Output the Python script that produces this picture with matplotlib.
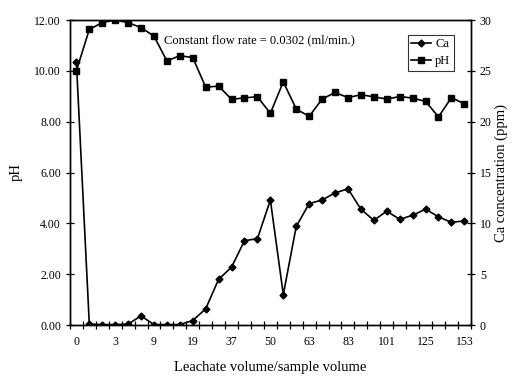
import numpy as np
import matplotlib.pyplot as plt
from matplotlib.ticker import FormatStrFormatter

plt.rcParams['font.family'] = ['Liberation Serif', 'DejaVu Serif']

# 31 samples, category axis, every third one labelled
tick_labels = ['0', '3', '9', '19', '37', '50', '63', '83', '101', '125', '153']

ph = [10.0, 11.63, 11.9, 12.0, 11.9, 11.7, 11.37, 10.39, 10.6, 10.52,
      9.36, 9.4, 8.88, 8.94, 8.98, 8.33, 9.57, 8.5, 8.21, 8.89,
      9.15, 8.95, 9.06, 8.98, 8.89, 8.99, 8.93, 8.8, 8.19, 8.95, 8.7]

ca = [25.9, 0.1, 0.05, 0.05, 0.1, 0.9, 0.05, 0.05, 0.05, 0.45,
      1.6, 4.5, 5.7, 8.3, 8.5, 12.3, 3.0, 9.7, 11.95, 12.3,
      13.0, 13.4, 11.4, 10.3, 11.2, 10.4, 10.8, 11.4, 10.65, 10.1, 10.25]

x = np.arange(len(ph))

fig = plt.figure(figsize=(5.14, 3.78), dpi=100)
ax = fig.add_axes([0.136, 0.140, 0.780, 0.807])
ax2 = ax.twinx()

l_ca, = ax2.plot(x, ca, color='black', lw=1.2, marker='D', ms=3.5, label='Ca')
l_ph, = ax.plot(x, ph, color='black', lw=1.2, marker='s', ms=4, label='pH')

ax.set_xlim(-0.5, len(ph) - 0.5)
ax.set_ylim(0, 12)
ax2.set_ylim(0, 30)

ax.set_xticks(x[::3])
ax.set_xticklabels(tick_labels)
ax.set_xticks(np.arange(-0.5, len(ph)), minor=True)
ax.tick_params(axis='x', which='major', length=0, pad=8, labelsize=8.5)
ax.tick_params(axis='x', which='minor', length=6, direction='inout', width=0.9)

ax.set_yticks(np.arange(0, 12.1, 2))
ax.yaxis.set_major_formatter(FormatStrFormatter('%.2f'))
ax.tick_params(axis='y', length=6, direction='inout', labelsize=8.5, width=0.9)
ax2.set_yticks(np.arange(0, 31, 5))
ax2.tick_params(axis='y', length=6, direction='inout', labelsize=8.5, width=0.9)

for a in (ax, ax2):
    for s in a.spines.values():
        s.set_linewidth(1.0)

ax.set_xlabel('Leachate volume/sample volume', fontsize=10.5, labelpad=9)
ax.set_ylabel('pH', fontsize=10.5, labelpad=8)
ax2.set_ylabel('Ca concentration (ppm)', fontsize=10.5, labelpad=2)

ax.text(0.235, 0.935, 'Constant flow rate = 0.0302 (ml/min.)', transform=ax.transAxes,
        fontsize=9, va='center', ha='left')

leg = ax.legend(handles=[l_ca, l_ph], loc='upper right', bbox_to_anchor=(0.958, 0.952),
                fontsize=9, frameon=True, fancybox=False, handlelength=1.6,
                borderpad=0.3, labelspacing=0.4, handletextpad=0.3, borderaxespad=0)
leg.get_frame().set_edgecolor('black')
leg.get_frame().set_linewidth(0.8)

fig.savefig('out.png', dpi=100)
